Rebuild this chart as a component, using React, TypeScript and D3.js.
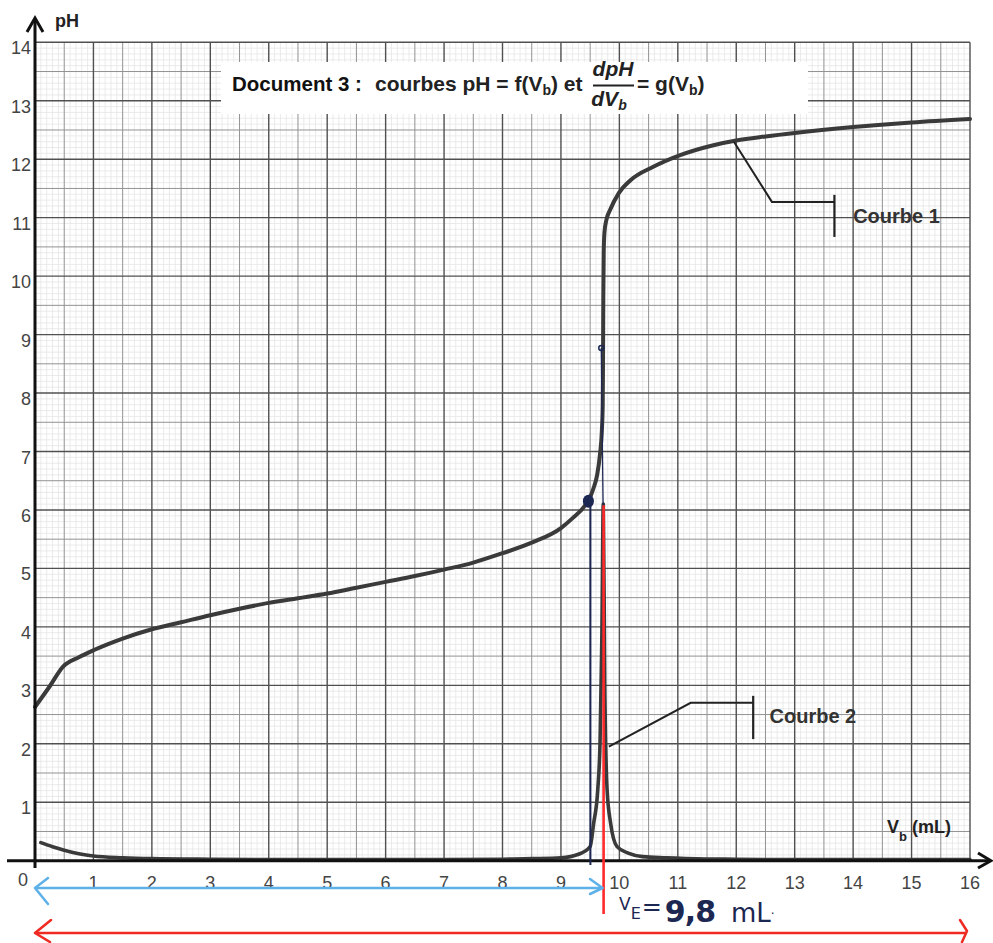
import React from 'react';
import * as d3 from 'd3';

// Courbe 1 : pH = f(Vb)
const phVolumes = [0, 0.25, 0.48, 0.75, 1, 1.5, 2, 2.5, 3, 3.5, 4, 4.5, 5, 5.5, 6, 6.5, 7, 7.5, 8, 8.5, 9, 9.2, 9.4, 9.5, 9.56, 9.62, 9.67, 9.7, 9.715, 9.72, 9.725, 9.732, 9.745, 9.78, 9.84, 9.99, 10.19, 10.58, 11.04, 11.61, 12, 12.5, 13, 14, 15, 16];
const phValues = [2.63, 2.98, 3.32, 3.48, 3.6, 3.8, 3.96, 4.08, 4.2, 4.31, 4.41, 4.49, 4.57, 4.67, 4.77, 4.87, 4.98, 5.1, 5.26, 5.44, 5.69, 5.86, 6.06, 6.22, 6.38, 6.6, 6.97, 7.35, 7.8, 8.5, 9.6, 10.4, 10.75, 10.97, 11.13, 11.42, 11.64, 11.87, 12.07, 12.24, 12.32, 12.39, 12.45, 12.55, 12.63, 12.69];

// Courbe 2 : dpH/dVb = g(Vb)
const derivVolumes = [0.1, 0.3, 0.5, 0.75, 1, 1.5, 2, 3, 4, 5, 6, 7, 8, 8.5, 9, 9.3, 9.5, 9.56, 9.63, 9.67, 9.7, 9.725, 9.75, 9.79, 9.85, 9.96, 10.15, 10.4, 10.8, 11.5, 12, 13, 14, 15, 16];
const derivValues = [0.31, 0.24, 0.18, 0.12, 0.08, 0.05, 0.035, 0.025, 0.02, 0.02, 0.02, 0.02, 0.025, 0.035, 0.05, 0.11, 0.24, 0.64, 1.21, 2.06, 3.8, 6.1, 3.0, 1.21, 0.64, 0.24, 0.13, 0.07, 0.05, 0.03, 0.025, 0.02, 0.02, 0.02, 0.02];

const xTickValues = [1, 2, 3, 4, 5, 6, 7, 8, 9, 10, 11, 12, 13, 14, 15, 16];
const yTickValues = [1, 2, 3, 4, 5, 6, 7, 8, 9, 10, 11, 12, 13, 14];

// hand-drawn annotations (data units)
const VE_LINE = 9.73;
const VE_TOP = 6.08;
const HALF_POINT = [9.47, 6.15];
const SMALL_POINT = [9.69, 8.77];

const FONT = '"Liberation Sans", Arial, sans-serif';
const NAVY = '#1c2752';

export default function App() {
  const W = 993, H = 943;
  const x = d3.scaleLinear().domain([0, 16]).range([35, 970]);
  const y = d3.scaleLinear().domain([0, 14]).range([860.7, 42.3]);

  const phPts: [number, number][] = phVolumes.map((v, i) => [x(v), y(phValues[i])]);
  const dPts: [number, number][] = derivVolumes.map((v, i) => [x(v), y(derivValues[i])]);
  const lg = d3.line().curve(d3.curveMonotoneX);
  const phPath = lg(phPts) || '';
  const dPath = lg(dPts) || '';

  const gridX = d3.range(0, 161).map(i => i / 10);
  const gridY = d3.range(0, 141).map(i => i / 10);

  const gridKind = (i: number) => (i % 10 === 0 ? 'major' : i % 5 === 0 ? 'half' : 'minor');
  const style: Record<string, { stroke: string; w: number }> = {
    major: { stroke: '#505050', w: 1.4 },
    half: { stroke: '#929292', w: 1.0 },
    minor: { stroke: '#e2e2e2', w: 0.7 },
  };
  const order = ['minor', 'half', 'major'];

  return (
    <svg width={W} height={H} style={{ position: 'absolute', left: 0, top: 0, background: '#fff' }} fontFamily={FONT}>
      <rect x={0} y={0} width={W} height={H} fill="#fff" />
      {/* grid */}
      {order.map(kind => (
        <g key={kind}>
          {gridX.map((v, i) => gridKind(i) === kind ? (
            <line key={'x' + i} x1={x(v)} x2={x(v)} y1={y(0)} y2={y(14)} stroke={style[kind].stroke} strokeWidth={style[kind].w} />
          ) : null)}
          {gridY.map((v, i) => gridKind(i) === kind ? (
            <line key={'y' + i} x1={x(0)} x2={x(16)} y1={y(v)} y2={y(v)} stroke={style[kind].stroke} strokeWidth={style[kind].w} />
          ) : null)}
        </g>
      ))}

      {/* title box */}
      <rect x={221} y={62} width={587} height={52} fill="#fff" />
      <text x={232} y={91} fontSize={20.5} fontWeight="bold" fill="#111">Document 3 :</text>
      <text x={375} y={91} fontSize={21} fontWeight="bold" fill="#222">
        courbes pH = f(V<tspan fontSize={14} dy={4}>b</tspan><tspan dy={-4}>) et</tspan>
      </text>
      <text x={613} y={76} fontSize={21} fontWeight="bold" fontStyle="italic" fill="#222" textAnchor="middle">dpH</text>
      <line x1={593} x2={634} y1={85.5} y2={85.5} stroke="#222" strokeWidth={2} />
      <text x={609} y={106} fontSize={21} fontWeight="bold" fontStyle="italic" fill="#222" textAnchor="middle">dV<tspan fontSize={14} dy={4}>b</tspan></text>
      <text x={637} y={91} fontSize={21} fontWeight="bold" fill="#222">
        = g(V<tspan fontSize={14} dy={4}>b</tspan><tspan dy={-4}>)</tspan>
      </text>

      {/* curves */}
      <path d={phPath} fill="none" stroke="#3a3a3a" strokeWidth={4} strokeLinejoin="round" strokeLinecap="round" />
      <path d={dPath} fill="none" stroke="#3a3a3a" strokeWidth={3.6} strokeLinejoin="round" strokeLinecap="round" />

      {/* axes */}
      <line x1={x(0)} x2={x(0)} y1={868} y2={19} stroke="#111" strokeWidth={3} />
      <polyline points={`${x(0) - 8},32 ${x(0)},18 ${x(0) + 8},32`} fill="none" stroke="#111" strokeWidth={3} />
      <line x1={7} x2={990} y1={y(0)} y2={y(0)} stroke="#111" strokeWidth={3} />
      <polyline points={`978,853 991,${y(0)} 978,868`} fill="none" stroke="#111" strokeWidth={3} />
      <text x={55} y={27} fontSize={18} fontWeight="bold" fill="#222">pH</text>

      {xTickValues.map(v => (
        <text key={v} x={x(v)} y={889} fontSize={18} fill="#444" textAnchor="middle">{v}</text>
      ))}
      <text x={23} y={886} fontSize={18} fill="#444" textAnchor="middle">0</text>
      {yTickValues.map(v => (
        <text key={v} x={31} y={y(v) + 12} fontSize={18} fill="#444" textAnchor="end">{v}</text>
      ))}
      <text x={887} y={833} fontSize={18} fontWeight="bold" fill="#222">V<tspan fontSize={13} dy={8}>b</tspan><tspan dy={-8}> (mL)</tspan></text>

      {/* Courbe 1 label */}
      <polyline points={`${x(11.96)},${y(12.3)} ${x(12.61)},${y(11.27)} ${x(13.68)},${y(11.27)}`} fill="none" stroke="#222" strokeWidth={2} />
      <line x1={x(13.68)} x2={x(13.68)} y1={y(11.39)} y2={y(10.67)} stroke="#222" strokeWidth={2.2} />
      <text x={x(14.0)} y={y(10.91)} fontSize={20} fontWeight="bold" fill="#333">Courbe 1</text>

      {/* Courbe 2 label */}
      <polyline points={`${x(9.82)},${y(1.95)} ${x(11.22)},${y(2.7)} ${x(12.29)},${y(2.7)}`} fill="none" stroke="#222" strokeWidth={2} />
      <line x1={x(12.29)} x2={x(12.29)} y1={y(2.82)} y2={y(2.08)} stroke="#222" strokeWidth={2.2} />
      <text x={x(12.57)} y={y(2.35)} fontSize={20} fontWeight="bold" fill="#333">Courbe 2</text>

      {/* hand annotations */}
      <line x1={x(SMALL_POINT[0])} x2={x(VE_LINE) - 0.5} y1={y(SMALL_POINT[1])} y2={y(VE_TOP)} stroke={NAVY} strokeWidth={1.3} />
      <circle cx={x(SMALL_POINT[0])} cy={y(SMALL_POINT[1])} r={2.5} fill="none" stroke={NAVY} strokeWidth={1.5} />
      <line x1={x(HALF_POINT[0]) + 2} x2={x(HALF_POINT[0]) + 2} y1={y(HALF_POINT[1])} y2={865} stroke={NAVY} strokeWidth={2} />
      <ellipse cx={x(HALF_POINT[0])} cy={y(HALF_POINT[1])} rx={5.5} ry={6.5} fill={NAVY} />
      <line x1={x(VE_LINE)} x2={x(VE_LINE)} y1={y(VE_TOP)} y2={914} stroke="#ff2a2a" strokeWidth={2.6} />

      {/* light blue arrow */}
      <line x1={x(0)} x2={x(VE_LINE) - 1} y1={888} y2={888} stroke="#5db1e8" strokeWidth={2.5} />
      <polyline points={`48,878 35,888 48,904`} fill="none" stroke="#5db1e8" strokeWidth={2.5} strokeLinejoin="round" strokeLinecap="round" />
      <polyline points={`590,879 ${x(VE_LINE) - 1},888 590,894`} fill="none" stroke="#5db1e8" strokeWidth={2.5} strokeLinejoin="round" strokeLinecap="round" />

      {/* red arrow */}
      <line x1={35} x2={967} y1={933} y2={933} stroke="#ee2a22" strokeWidth={2.5} />
      <polyline points={`51,920 35,933 50,942`} fill="none" stroke="#ee2a22" strokeWidth={2.5} strokeLinejoin="round" strokeLinecap="round" />
      <polyline points={`960,920 967,931 962,942`} fill="none" stroke="#ee2a22" strokeWidth={2.5} strokeLinejoin="round" strokeLinecap="round" />

      {/* handwritten VE */}
      <text x={619} y={910} fill={NAVY} fontFamily='"DejaVu Sans", sans-serif' fontSize={17}>
        V<tspan fontSize={16} dy={9}>E</tspan><tspan fontSize={24} dy={-4} dx={1}>=</tspan><tspan fontSize={30} dy={7} dx={3} fontWeight="bold" letterSpacing={-1}>9,8</tspan><tspan fontSize={26} dx={16}>mL</tspan><tspan fontSize={12} dy={-8}>.</tspan>
      </text>
    </svg>
  );
}
